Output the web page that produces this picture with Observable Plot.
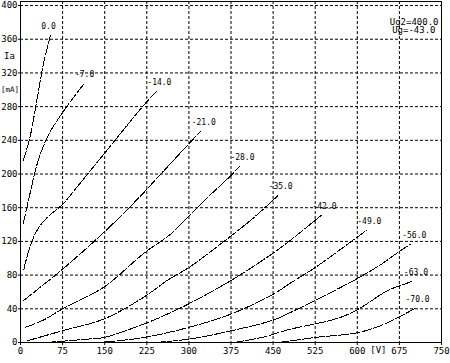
<!DOCTYPE html>
<html><head><meta charset="utf-8">
<script src="https://cdn.jsdelivr.net/npm/d3@7"></script>
<script src="https://cdn.jsdelivr.net/npm/@observablehq/plot@0.6"></script>
<style>body{margin:0;background:#fff}</style>
</head><body><div id="chart"></div>
<script>
// Grid bias labels for each curve
const biasLabels = ["0.0","-7.0","-14.0","-21.0","-28.0","-35.0","-42.0","-49.0","-56.0","-63.0","-70.0"];
// [Ua (V), Ia (mA)]
const curve0  = [[5,216],[17,244],[29,287],[41,331],[53,364]];
const curve7  = [[5,141],[18,180],[28,208],[39,230],[51,248],[77,275],[113,307]];
const curve14 = [[6,87],[18,116],[33,137],[50,150],[75,164],[100,184],[133,211],[166,238],[195,262],[220,282],[242,298]];
const curve21 = [[6,50],[36,66],[75,87],[149,131],[214,174],[250,200],[289,228],[321,251]];
const curve28 = [[9,18],[42,27],[75,40],[149,66],[220,106],[268,129],[300,150],[333,172],[376,199],[390,209]];
const curve35 = [[12,2],[75,14],[149,28],[220,54],[262,74],[300,89],[333,105],[376,127],[417,149],[458,174]];
const curve42 = [[45,0],[119,4],[149,6],[220,22],[256,32],[300,46],[376,74],[452,107],[482,122],[536,151]];
const curve49 = [[130,0],[149,0.5],[220,6],[300,18],[376,34],[452,58],[482,71],[525,89],[571,111],[616,133]];
const curve56 = [[240,0],[300,4],[376,14],[452,27],[482,36],[525,50],[603,77],[643,93],[679,110],[696,117]];
const curve63 = [[380,0],[430,6],[482,16],[525,22],[571,30],[603,40],[655,62],[679,68],[699,73]];
const curve70 = [[460,0],[482,2],[525,6],[603,12],[649,22],[679,32],[702,40]];
const xTicks = [0,75,150,225,300,375,450,525,600,675,750];
const yTicks = [0,40,80,120,160,200,240,280,320,360,400];
const infoLines = ["Ug2=400.0","Ug=-43.0"];
const xUnit = "[V]";
const yName = "Ia";
const yUnit = "[mA]";

const curves = [curve0,curve7,curve14,curve21,curve28,curve35,curve42,curve49,curve56,curve63,curve70];
const rows = [];
const ends = [];
curves.forEach((pts, i) => {
  pts.forEach(([x, y]) => rows.push({x, y, g: biasLabels[i]}));
  const [lx, ly] = pts[pts.length - 1];
  ends.push({x: lx, y: ly, g: biasLabels[i]});
});

const font = "DejaVu Sans Mono";
const chart = Plot.plot({
  width: 450, height: 363,
  marginLeft: 20, marginRight: 9, marginTop: 1, marginBottom: 21,
  style: {fontFamily: font, fontSize: "9px", background: "white", color: "black", overflow: "visible"},
  x: {domain: [0, 750]},
  y: {domain: [0, 404.8]},
  marks: [
    Plot.gridX(xTicks.slice(1, -1), {stroke: "black", strokeOpacity: 1, strokeDasharray: "3,2"}),
    Plot.gridY(yTicks.slice(1), {stroke: "black", strokeOpacity: 1, strokeDasharray: "3,2"}),
    Plot.line(rows, {x: "x", y: "y", z: "g", stroke: "black", strokeWidth: 1, strokeDasharray: "10,2", curve: "catmull-rom", shapeRendering: "crispEdges"}),
    Plot.text(ends, {x: "x", y: "y", text: "g", dx: -9, dy: -9, textAnchor: "start", lineAnchor: "middle", fontSize: 8, fill: "black"}),
    Plot.frame({stroke: "black", strokeWidth: 1}),
    Plot.axisX(xTicks, {tickSize: 3, tickPadding: 2, fontSize: 9, label: null, tickFormat: d => String(d)}),
    Plot.axisY(yTicks, {tickSize: 2, tickPadding: 1, fontSize: 9, label: null, tickFormat: d => String(d)}),
    Plot.text([yName], {x: () => xTicks[0], y: () => (yTicks[8] + yTicks[9]) / 2, text: d => d, dx: -11, textAnchor: "middle", fontSize: 9, fill: "black"}),
    Plot.text([yUnit], {x: () => xTicks[0], y: () => (yTicks[7] + yTicks[8]) / 2, text: d => d, dx: -19.5, textAnchor: "start", fontSize: 7.5, fill: "black"}),
    Plot.text([xUnit], {x: () => (xTicks[8] + xTicks[9]) / 2, y: () => yTicks[0], text: d => d, dy: 8, textAnchor: "middle", fontSize: 9, fill: "black"}),
    Plot.text([infoLines[0]], {frameAnchor: "top-right", text: d => d, dx: -3, dy: 20.5, textAnchor: "end", lineAnchor: "middle", fontSize: 9, fill: "black"}),
    Plot.text([infoLines[1]], {frameAnchor: "top-right", text: d => d, dx: -6, dy: 29, textAnchor: "end", lineAnchor: "middle", fontSize: 9, fill: "black"})
  ]
});
document.getElementById("chart").appendChild(chart);
</script>
</body></html>
